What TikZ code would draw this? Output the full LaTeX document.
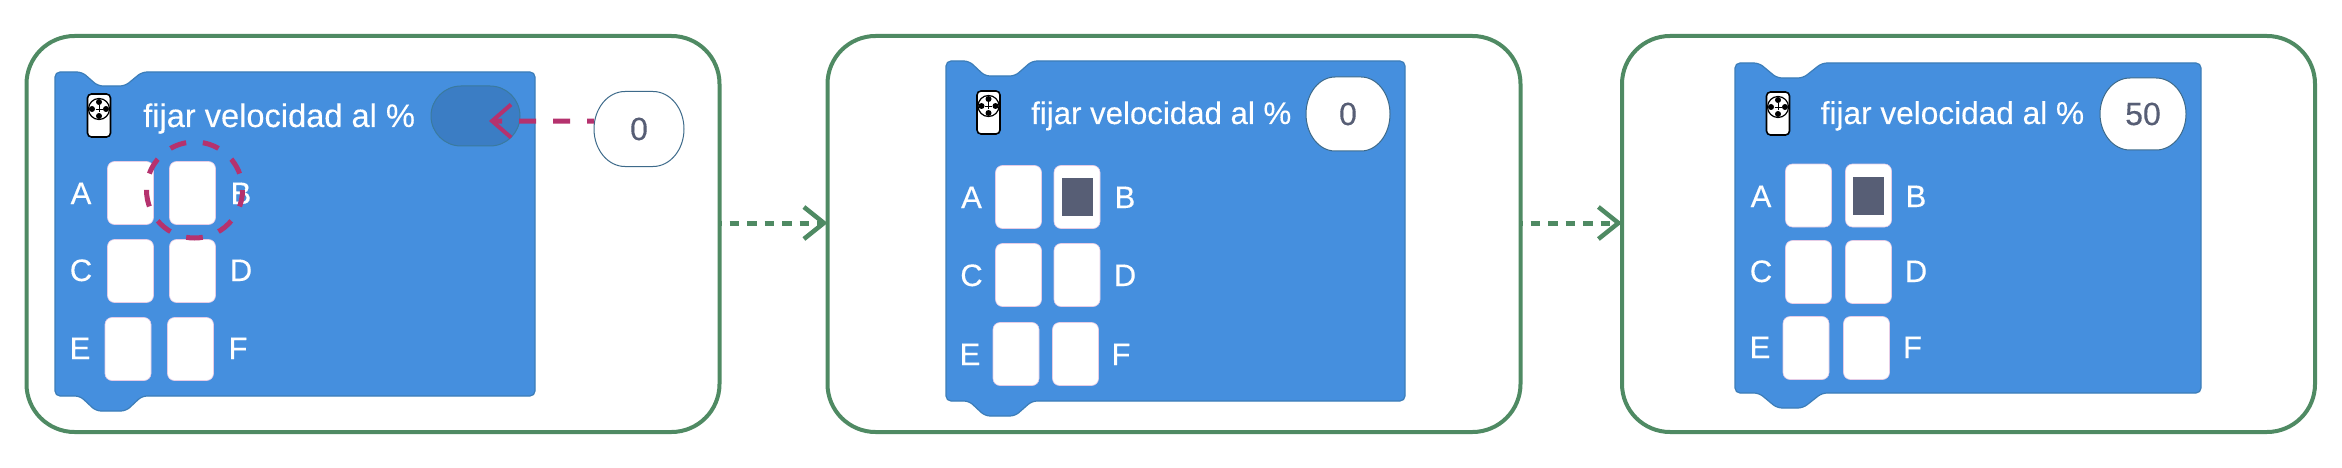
\documentclass[tikz,border=0pt]{standalone}
\usepackage{fontspec}
\setmainfont{Liberation Sans}[FakeBold=0.25]
\usetikzlibrary{arrows.meta}
\definecolor{framegreen}{HTML}{4F8A63}
\definecolor{blockblue}{HTML}{458FDE}
\definecolor{blockedge}{HTML}{3C7DB8}
\definecolor{inputblue}{HTML}{3B7DC4}
\definecolor{inputedge}{HTML}{3A7A9E}
\definecolor{valueedge}{HTML}{3D6A8A}
\definecolor{valuegrey}{HTML}{575E75}
\definecolor{ringpink}{HTML}{B5326E}
\definecolor{slotedge}{HTML}{E6CCE6}
\tikzset{
  framebox/.style={draw=framegreen, line width=4pt, fill=white, rounded corners=48pt,
    inner sep=0pt, outer sep=0pt, minimum width=693pt, minimum height=396pt},
  blockshape/.style={draw=blockedge, line width=1.2pt, fill=blockblue, rounded corners=5pt},
  slotbox/.style={draw=slotedge, line width=.6pt, fill=white, rounded corners=7pt,
    inner sep=0pt, outer sep=0pt, minimum width=46pt, minimum height=63pt},
  slotmark/.style={fill=valuegrey, inner sep=0pt, minimum width=31pt, minimum height=38pt},
  letter/.style={text=white, anchor=base, inner sep=0pt, font=\fontsize{31}{36}\selectfont},
  title/.style={text=white, anchor=base west, inner sep=0pt},
  ovaledge/.style={draw=valueedge, line width=1pt, fill=white},
  valuetext/.style={text=valuegrey, inner sep=0pt, outer sep=0pt, font=\fontsize{32}{36}\selectfont},
  inputslot/.style={draw=inputedge, line width=1pt, fill=inputblue, rounded corners=30pt,
    inner sep=0pt, outer sep=0pt, minimum width=89pt, minimum height=60pt},
  ringmark/.style={draw=ringpink, circle, line width=5pt, inner sep=0pt, outer sep=0pt,
    minimum size=96pt, dash pattern=on 16.75pt off 16.75pt, dash phase=16.75pt},
  pinkflow/.style={draw=ringpink, line width=5pt, dash pattern=on 17pt off 17pt, dash phase=10pt,
    -{Straight Barb[length=19pt,width=33pt,line width=4pt]}},
  greenflow/.style={draw=framegreen, line width=5pt, dash pattern=on 9.5pt off 8pt, dash phase=7.5pt,
    -{Straight Barb[length=20pt,width=32pt,line width=4.5pt]}},
  remoteicon/.pic={
    \draw[fill=white, line width=1.6pt, rounded corners=4pt] (-11.5,0) rectangle (11.5,43);
    \draw[line width=1.2pt] (0,15) circle (10.5);
    \fill (0,8) circle (3) (0,22) circle (3) (-7,15) circle (3) (7,15) circle (3);
    \draw[line width=.8pt] (-3.5,15) -- (3.5,15) (0,11.5) -- (0,18.5);
  }
}
\begin{document}
\begin{tikzpicture}[x=1pt, y=-1pt]
  \useasboundingbox (0,0) rectangle (2342,468);

  % First panel: empty input and the value to drop in
  \node[framebox] (frame1) at (373,234) {};
  \draw[blockshape] (55,72) -- (82,72) -- (98,86) -- (125,86) -- (142,72) -- (535,72)
    -- (535,396) -- (142,396) -- (126,411) -- (96,411) -- (80,396) -- (55,396) -- cycle;
  \pic at (99,94) {remoteicon};
  \node[title, font=\fontsize{32.6}{36}\selectfont] (title1) at (143,127) {fijar velocidad al \%};
  \node[inputslot] (input1) at (475.5,116) {};
  \draw[ovaledge] (625,91.5) arc[start angle=90, delta angle=180, x radius=31pt, y radius=37.5pt]
    -- (653,166.5) arc[start angle=-90, delta angle=180, x radius=31pt, y radius=37.5pt] -- cycle;
  \node[valuetext, minimum width=90pt, minimum height=75pt] (value1) at (639,129) {0};
  \node[slotbox] (slotA1) at (130.5,193) {};
  \node[slotbox] (slotB1) at (192.5,193) {};
  \node[slotbox] (slotC1) at (130.5,271) {};
  \node[slotbox] (slotD1) at (192.5,271) {};
  \node[slotbox] (slotE1) at (128,349) {};
  \node[slotbox] (slotF1) at (190.5,349) {};
  \node[letter] (nameA1) at (81,204) {A};
  \node[letter] (nameB1) at (241,204) {B};
  \node[letter] (nameC1) at (81,281) {C};
  \node[letter] (nameD1) at (241,281) {D};
  \node[letter] (nameE1) at (80,359) {E};
  \node[letter] (nameF1) at (238,359) {F};
  \node[ringmark] (ring1) at (194.5,190) {};
  \coordinate (drop1) at (489,121);
  \draw[pinkflow] (value1.170) -- (drop1);

  % Second panel: port B chosen, value 0
  \node[framebox] (frame2) at (1174,234) {};
  \draw[blockshape] (946,61) -- (969,61) -- (985,76) -- (1015,76) -- (1032,61) -- (1405,61)
    -- (1405,401) -- (1032,401) -- (1015,416) -- (985,416) -- (969,401) -- (946,401) -- cycle;
  \pic at (988.5,91) {remoteicon};
  \node[title, font=\fontsize{31.2}{36}\selectfont] (title2) at (1031,124) {fijar velocidad al \%};
  \draw[ovaledge] (1335,77) arc[start angle=90, delta angle=180, x radius=29pt, y radius=37pt]
    -- (1361,151) arc[start angle=-90, delta angle=180, x radius=29pt, y radius=37pt] -- cycle;
  \node[valuetext] (value2) at (1348,114) {0};
  \node[slotbox] (slotA2) at (1018.5,197) {};
  \node[slotbox] (slotB2) at (1077,197) {};
  \node[slotbox] (slotC2) at (1018.5,275) {};
  \node[slotbox] (slotD2) at (1077,275) {};
  \node[slotbox] (slotE2) at (1016,354) {};
  \node[slotbox] (slotF2) at (1075.5,354) {};
  \node[slotmark] (markB2) at (slotB2) {};
  \node[letter] (nameA2) at (971.5,208) {A};
  \node[letter] (nameB2) at (1125,208) {B};
  \node[letter] (nameC2) at (971.5,286) {C};
  \node[letter] (nameD2) at (1125,286) {D};
  \node[letter] (nameE2) at (970,365) {E};
  \node[letter] (nameF2) at (1121,365) {F};

  % Third panel: port B chosen, value 50
  \node[framebox] (frame3) at (1968.5,234) {};
  \draw[blockshape] (1735,63) -- (1759,63) -- (1777,78) -- (1803,78) -- (1822,63) -- (2201,63)
    -- (2201,393) -- (1822,393) -- (1803,408) -- (1777,408) -- (1759,393) -- (1735,393) -- cycle;
  \pic at (1778,92) {remoteicon};
  \node[title, font=\fontsize{31.6}{36}\selectfont] (title3) at (1820.5,124) {fijar velocidad al \%};
  \draw[ovaledge] (2130,78) arc[start angle=90, delta angle=180, x radius=30pt, y radius=36pt]
    -- (2156,150) arc[start angle=-90, delta angle=180, x radius=30pt, y radius=36pt] -- cycle;
  \node[valuetext] (value3) at (2143,114) {50};
  \node[slotbox] (slotA3) at (1808.5,195.5) {};
  \node[slotbox] (slotB3) at (1868.5,195.5) {};
  \node[slotbox] (slotC3) at (1808.5,272) {};
  \node[slotbox] (slotD3) at (1868.5,272) {};
  \node[slotbox] (slotE3) at (1806,348) {};
  \node[slotbox] (slotF3) at (1866.5,348) {};
  \node[slotmark] (markB3) at (slotB3) {};
  \node[letter] (nameA3) at (1761,207) {A};
  \node[letter] (nameB3) at (1916,207) {B};
  \node[letter] (nameC3) at (1761,282) {C};
  \node[letter] (nameD3) at (1916,282) {D};
  \node[letter] (nameE3) at (1760,358) {E};
  \node[letter] (nameF3) at (1912.5,358) {F};

  % Steps between panels
  \coordinate (stepline) at (0,223);
  \draw[greenflow] (frame1.east |- stepline) -- (frame2.west |- stepline);
  \draw[greenflow] (frame2.east |- stepline) -- (frame3.west |- stepline);
\end{tikzpicture}
\end{document}
